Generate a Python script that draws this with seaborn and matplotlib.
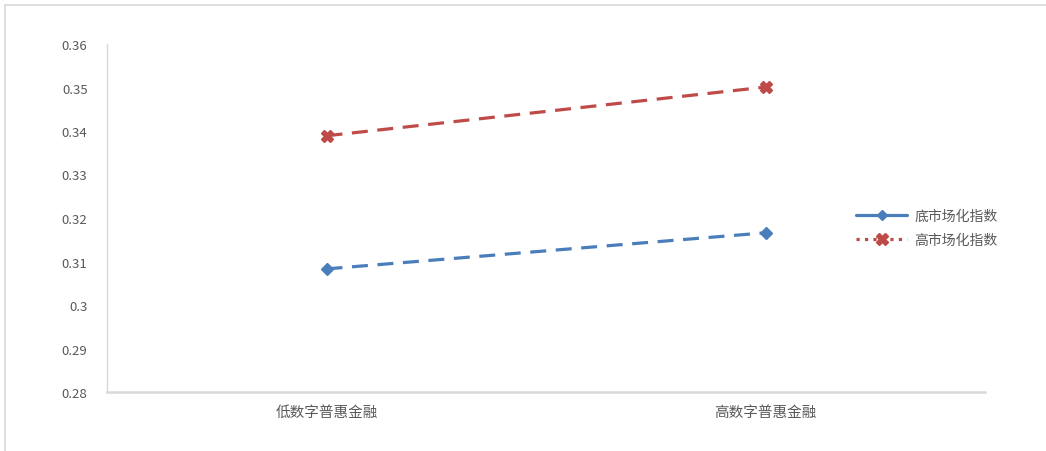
import matplotlib
matplotlib.use("Agg")
import matplotlib.pyplot as plt
import seaborn as sns
import pandas as pd
from matplotlib.lines import Line2D
from matplotlib.ticker import FuncFormatter

categories = ["低数字普惠金融", "高数字普惠金融"]
series_names = ["底市场化指数", "高市场化指数"]
low_market = [0.3083, 0.3166]
high_market = [0.3389, 0.3501]
y_ticks = [0.28, 0.29, 0.30, 0.31, 0.32, 0.33, 0.34, 0.35, 0.36]

colors = ["#4a7ebb", "#be4b48"]

df = pd.DataFrame({
    "x": categories * 2,
    "y": low_market + high_market,
    "series": [series_names[0]] * 2 + [series_names[1]] * 2,
})

sns.set_theme(style="white")
plt.rcParams["font.family"] = ["Noto Sans CJK SC", "DejaVu Sans"]

fig = plt.figure(figsize=(10.46, 4.52), dpi=100)
ax = fig.add_axes([107 / 1046, 1 - 393 / 452, (985 - 107) / 1046, (393 - 45) / 452])

sns.lineplot(data=df, x="x", y="y", hue="series", palette=colors, style="series",
             markers={series_names[0]: "D", series_names[1]: "X"},
             dashes={series_names[0]: (5, 3), series_names[1]: (5, 3)},
             linewidth=2.3, markersize=7, markeredgewidth=1, ax=ax, legend=False, sort=False)
for line, ms in zip(ax.get_lines(), [6, 9]):
    line.set_markersize(ms)
    line.set_markeredgecolor(line.get_color())

ax.set_xlim(-0.5, 1.5)
ax.set_ylim(0.28, 0.36)
ax.set_yticks(y_ticks)
ax.yaxis.set_major_formatter(FuncFormatter(lambda v, p: f"{v:g}"))
ax.set_xlabel("")
ax.set_ylabel("")
ax.tick_params(axis="both", length=0, labelsize=9.5, colors="#595959")
ax.tick_params(axis="y", pad=14)
ax.tick_params(axis="x", pad=9)
for lab in ax.get_xticklabels():
    lab.set_fontsize(10.5)
for s in ["top", "right"]:
    ax.spines[s].set_visible(False)
ax.spines["left"].set_color("#d9d9d9")
ax.spines["left"].set_linewidth(1.0)
ax.spines["bottom"].set_color("#d9d9d9")
ax.spines["bottom"].set_linewidth(1.8)
ax.grid(False)

handles = [
    Line2D([0], [0], color=colors[0], linestyle="-", linewidth=2.3, marker="D", markersize=5,
           markeredgewidth=1, markeredgecolor=colors[0]),
    Line2D([0], [0], color=colors[1], linestyle=":", linewidth=2.3, marker="X", markersize=8,
           markeredgewidth=1, markeredgecolor=colors[1]),
]
fig.legend(handles, series_names, loc="center left", bbox_to_anchor=(856 / 1046, 1 - 229 / 452),
           frameon=False, fontsize=10, labelcolor="#595959", handlelength=3.7, handletextpad=0.5,
           labelspacing=0.7, borderaxespad=0, borderpad=0)

# outer chart-area border (left and top visible)
fig.add_artist(Line2D([5 / 1046, 5 / 1046], [0, 1 - 6 / 452], transform=fig.transFigure, color="#d9d9d9", linewidth=1.2))
fig.add_artist(Line2D([5 / 1046, 1], [1 - 6 / 452, 1 - 6 / 452], transform=fig.transFigure, color="#d9d9d9", linewidth=1.2))

fig.savefig("out.png", dpi=100, facecolor="white")
